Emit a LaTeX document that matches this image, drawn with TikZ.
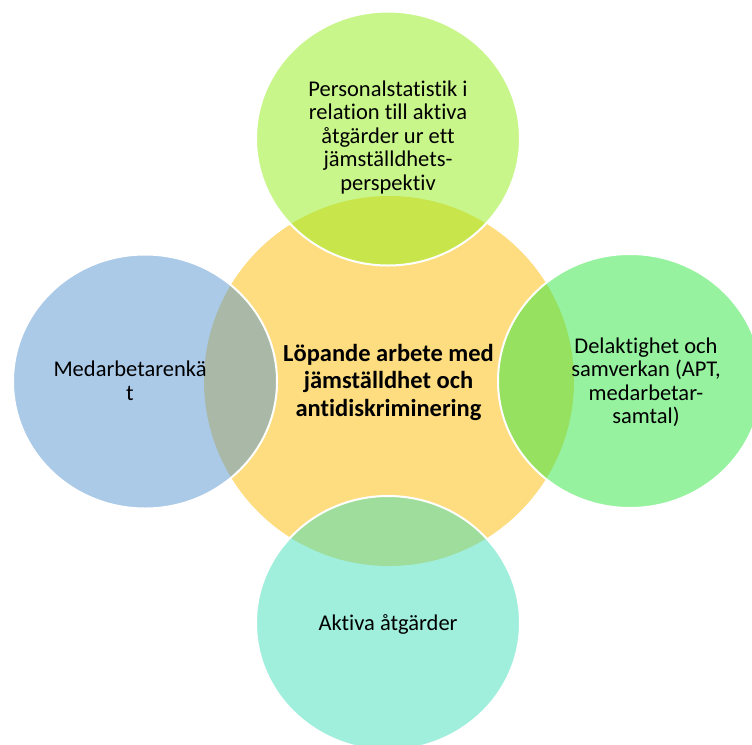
\documentclass[tikz,border=0pt]{standalone}
\usepackage{fontspec}
\setmainfont[Ligatures=NoCommon]{Carlito}
\usetikzlibrary{shapes.geometric}
\definecolor{hubyellow}{RGB}{254,221,128}
\definecolor{myblue}{RGB}{87,149,209}
\definecolor{mylime}{RGB}{147,237,23}
\definecolor{mygreen}{RGB}{47,229,65}
\definecolor{myteal}{RGB}{65,221,185}

\begin{document}
\begin{tikzpicture}[x=1pt,y=-1pt]
\useasboundingbox (0,0) rectangle (752,744);
\tikzset{HubStyle/.style ={shape=circle, fill=hubyellow, minimum size=370pt, inner sep=0}}
\tikzset{PartStyle/.style ={shape=ellipse, fill opacity=0.5, draw=white, line width=2pt,
  minimum width=264pt, minimum height=254pt, inner sep=0}}
\tikzset{TextStyle/.style ={align=center, font=\fontsize{22.5}{23.5}\selectfont}}
\node[HubStyle] (hub) at (389,381) {};
\node[PartStyle, fill=mylime] (top) at (388,138.5) {};
\node[PartStyle, fill=mygreen] (right) at (630,381) {};
\node[PartStyle, fill=myteal] (bottom) at (388,623) {};
\node[PartStyle, fill=myblue] (left) at (145,381.5) {};
\node[TextStyle, font=\fontsize{24.5}{27.5}\selectfont\bfseries] (hubtext) at (388.5,382)
  {Löpande arbete med\\jämställdhet och\\antidiskriminering};
\node[TextStyle] (toptext) at (388,137) {Personalstatistik i\\relation till aktiva\\åtgärder ur ett\\jämställdhets-\\perspektiv};
\node[TextStyle] (righttext) at (646,382) {Delaktighet och\\samverkan (APT,\\medarbetar-\\samtal)};
\node[TextStyle] (bottomtext) at (388,624) {Aktiva åtgärder};
\node[TextStyle] (lefttext) at (130,381) {Medarbetarenkä\\t};
\end{tikzpicture}
\end{document}
